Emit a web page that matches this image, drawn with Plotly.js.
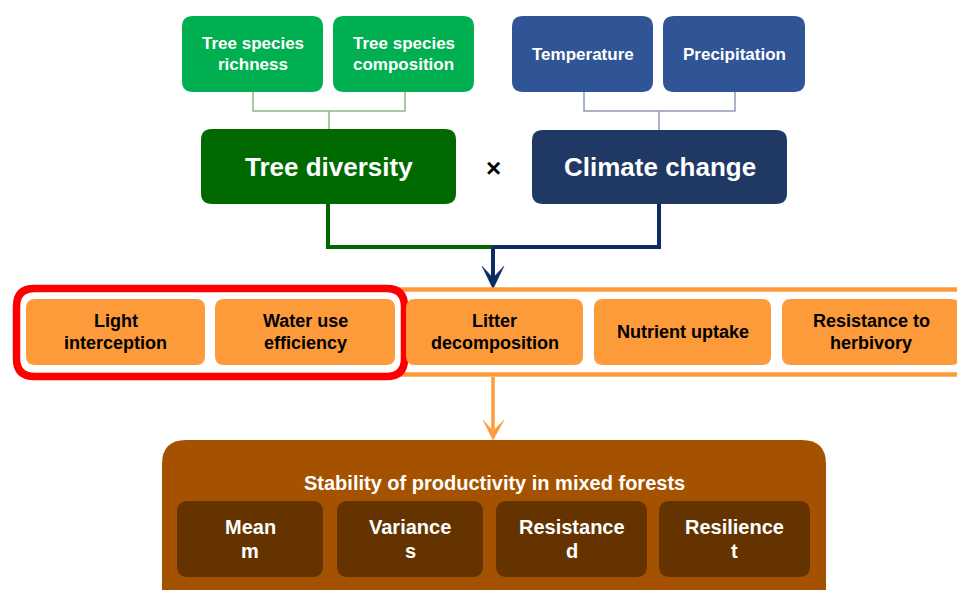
<!DOCTYPE html>
<html><head><meta charset="utf-8">
<script src="https://cdn.plot.ly/plotly-3.0.1.min.js"></script>
<style>html,body{margin:0;padding:0;background:#fff}#chart{width:957px;height:590px}</style>
</head><body><div id="chart"></div>
<script>
// ---- content ----
const driverLabels = ["Tree species<br>richness", "Tree species<br>composition", "Temperature", "Precipitation"];
const factorLabels = ["Tree diversity", "Climate change"];
const interactionSymbol = "×";
const processLabels = ["Light<br>interception", "Water use<br>efficiency", "Litter<br>decomposition", "Nutrient uptake", "Resistance to<br>herbivory"];
const stabilityTitle = "Stability of productivity in mixed forests";
const stabilityLabels = ["Mean<br>m", "Variance<br>s", "Resistance<br>d", "Resilience<br>t"];

// ---- geometry (pixel space of the 957x590 canvas) ----
const driverBoxes = [[182,323,16,92],[333,474,16,92],[512,653,16,92],[663,805,16,92]];
const driverColors = ["#00b050","#00b050","#2f5597","#2f5597"];
const factorBoxes = [[201,456,129,204],[532,787,130,204]];
const factorColors = ["#006a00","#203864"];
const processBoxes = [[26,205,299,365],[215,395,299,365],[406,583,299,365],[594,771,299,365],[782,960,299,365]];
const stabBoxes = [[177,323,501,577],[337,483,501,577],[496,647,501,577],[659,810,501,577]];

const FONT = "Liberation Sans, Arial, Helvetica, sans-serif";
const shapes = [];
const annotations = [];

function rr(x0,x1,y0,y1,r){
  return `M${x0+r},${y0} H${x1-r} Q${x1},${y0} ${x1},${y0+r} V${y1-r} Q${x1},${y1} ${x1-r},${y1} H${x0+r} Q${x0},${y1} ${x0},${y1-r} V${y0+r} Q${x0},${y0} ${x0+r},${y0} Z`;
}
function box(b, r, fill, lineColor, lineWidth){
  shapes.push({type:'path', xref:'x', yref:'y', path: rr(b[0],b[1],b[2],b[3],r),
    fillcolor: fill, line:{color: lineColor||fill, width: lineWidth===undefined?0:lineWidth}, layer:'above'});
}
function line(path, color, width){
  shapes.push({type:'path', xref:'x', yref:'y', path: path, line:{color:color, width:width}, layer:'above'});
}
function poly(path, color){
  shapes.push({type:'path', xref:'x', yref:'y', path: path, fillcolor:color, line:{color:color, width:0.5}, layer:'above'});
}
function text(label, cx, cy, size, color, gap){
  const lines = label.split('<br>');
  const n = lines.length;
  lines.forEach((t,i)=>{
    annotations.push({x:cx, y: cy + (i-(n-1)/2)*gap, xref:'x', yref:'y', text:'<b>'+t+'</b>',
      showarrow:false, xanchor:'center', yanchor:'middle',
      font:{family:FONT, size:size, color:color}});
  });
}

// thin connectors from drivers
line("M253,92 V111 H405 V92 M329,111 V129", "#8db78d", 1.5);
line("M584,92 V111 H735 V92 M659,111 V130", "#8e9ab3", 1.5);

// driver boxes
driverBoxes.forEach((b,i)=>{ box(b, 11, driverColors[i]); text(driverLabels[i], (b[0]+b[1])/2, (b[2]+b[3])/2, 17, "#ffffff", 21); });
// factor boxes
factorBoxes.forEach((b,i)=>{ box(b, 11, factorColors[i]); text(factorLabels[i], (b[0]+b[1])/2, (b[2]+b[3])/2, 26, "#ffffff", 30); });
text(interactionSymbol, 493, 168, 26, "#000000", 30);

// thick connectors into arrow
line("M328,204 V247 H493", "#006600", 4);
line("M659,204 V247 H493", "#0b2a66", 4);
line("M493,247 V280", "#0b2a66", 4);
poly("M482,266 L493,289 L504,266 L493,278 Z", "#0b2a66");

// orange frame around process row
shapes.push({type:'rect', xref:'x', yref:'y', x0:60, x1:990, y0:289.5, y1:374.5,
  fillcolor:'#ffffff', line:{color:'#fd9a3a', width:4.5}, layer:'above'});
// red highlight
box([16.5,404.5,288.5,376.5], 18, '#ffffff', '#ff0000', 7.5);

// process boxes
processBoxes.forEach((b,i)=>{ box(b, 9, "#fd9a3a"); text(processLabels[i], (b[0]+b[1])/2, (b[2]+b[3])/2, 18, "#000000", 22); });

// orange arrow
line("M493,377 V430", "#fd9a3a", 3.5);
poly("M483,420 L493,440 L504,420 L493,431 Z", "#fd9a3a");

// stability panel
box([162,826,440,640], 24, "#a45200");
text(stabilityTitle, 494, 483, 20, "#ffffff", 24);
stabBoxes.forEach((b,i)=>{ box(b, 11, "#643300"); text(stabilityLabels[i], (b[0]+b[1])/2, (b[2]+b[3])/2, 20, "#ffffff", 24); });

const layout = {
  width:957, height:590, margin:{l:0,r:0,t:0,b:0},
  paper_bgcolor:'#ffffff', plot_bgcolor:'#ffffff', showlegend:false,
  xaxis:{range:[0,957], visible:false, fixedrange:true},
  yaxis:{range:[590,0], visible:false, fixedrange:true},
  shapes: shapes, annotations: annotations
};
Plotly.newPlot('chart', [{x:[], y:[], type:'scatter', mode:'markers', hoverinfo:'skip'}], layout, {staticPlot:true, displayModeBar:false});
</script></body></html>
